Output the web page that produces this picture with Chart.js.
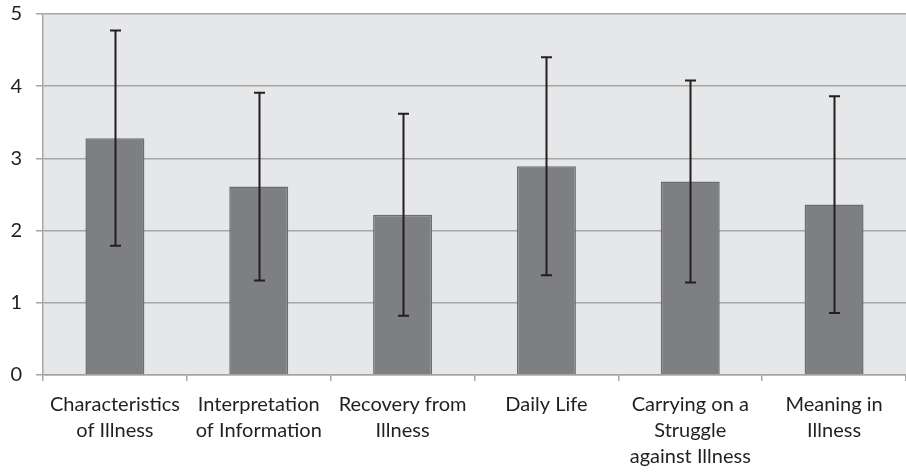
<!DOCTYPE html>
<html>
<head>
<meta charset="utf-8">
<script src="https://cdn.jsdelivr.net/npm/chart.js@4"></script>
<style>
  html, body { margin: 0; padding: 0; background: #ffffff; }
  #wrap { width: 906px; height: 472px; position: relative; }
</style>
</head>
<body>
<div id="wrap"><canvas id="c" width="906" height="472"></canvas></div>
<script>
const categories = [
  ["Characteristics", "of Illness"],
  ["Interpretation", "of Information"],
  ["Recovery from", "Illness"],
  ["Daily Life"],
  ["Carrying on a", "Struggle", "against Illness"],
  ["Meaning in", "Illness"]
];
const means = [3.28, 2.61, 2.22, 2.89, 2.68, 2.36];
const sds = [1.49, 1.30, 1.40, 1.51, 1.40, 1.50];
const yTicks = [0, 1, 2, 3, 4, 5];

const plotBg = {
  id: 'plotBg',
  beforeDraw(chart) {
    const {ctx, chartArea: a} = chart;
    ctx.save();
    ctx.fillStyle = '#e6e7e9';
    ctx.fillRect(a.left, a.top, a.right - a.left, a.bottom - a.top);
    ctx.restore();
  }
};

const errorBars = {
  id: 'errorBars',
  afterDatasetsDraw(chart) {
    const {ctx} = chart;
    const y = chart.scales.y;
    const meta = chart.getDatasetMeta(0);
    ctx.save();
    ctx.strokeStyle = '#231f20';
    ctx.lineWidth = 2;
    meta.data.forEach((bar, i) => {
      const x = Math.round(bar.x) + 0.5;
      const yTop = y.getPixelForValue(means[i] + sds[i]);
      const yBot = y.getPixelForValue(means[i] - sds[i]);
      ctx.beginPath();
      ctx.moveTo(x, yTop);
      ctx.lineTo(x, yBot);
      ctx.moveTo(x - 5.5, yTop);
      ctx.lineTo(x + 5.5, yTop);
      ctx.moveTo(x - 5.5, yBot);
      ctx.lineTo(x + 5.5, yBot);
      ctx.stroke();
    });
    ctx.restore();
  }
};

new Chart(document.getElementById('c'), {
  type: 'bar',
  data: {
    labels: categories,
    datasets: [{
      data: means,
      backgroundColor: '#7e7f83',
      borderColor: '#6c6d70',
      borderWidth: 1.5,
      barPercentage: 0.41,
      categoryPercentage: 1.0
    }]
  },
  options: {
    responsive: false,
    animation: false,
    devicePixelRatio: 1,
    layout: { padding: { top: 14, right: 0, left: 0, bottom: 0 } },
    plugins: {
      legend: { display: false },
      tooltip: { enabled: false }
    },
    scales: {
      x: {
        afterFit(s) { s.height = 97; s.paddingLeft = 0; s.paddingRight = 0; },
        grid: {
          display: true,
          drawOnChartArea: false,
          drawTicks: true,
          tickLength: 6,
          color: '#a6a6a6',
          lineWidth: 1.5,
          offset: true
        },
        border: { display: true, color: '#a6a6a6', width: 1.5 },
        ticks: {
          color: '#231f20',
          font: { family: 'Lato', size: 20, lineHeight: 1.3 },
          padding: 11,
          maxRotation: 0,
          autoSkip: false
        }
      },
      y: {
        min: 0,
        max: 5,
        afterFit(s) { s.width = 43; s.paddingTop = 0; s.paddingBottom = 0; },
        afterBuildTicks(s) { s.ticks = yTicks.map(v => ({ value: v })); },
        grid: {
          color: '#a6a6a6',
          lineWidth: 1.5,
          drawTicks: true,
          tickLength: 7
        },
        border: { display: true, color: '#a6a6a6', width: 1.5 },
        ticks: {
          color: '#231f20',
          font: { family: 'Lato', size: 20 },
          padding: 14
        }
      }
    }
  },
  plugins: [plotBg, errorBars]
});
</script>
</body>
</html>
